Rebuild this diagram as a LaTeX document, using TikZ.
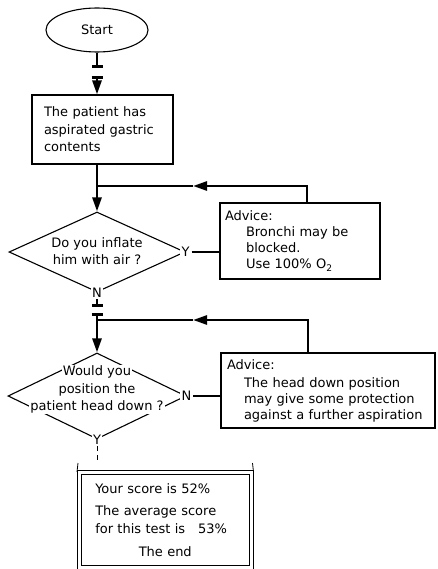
\documentclass[tikz,border=0pt]{standalone}
\usepackage{fontspec}
\setmainfont{DejaVu Sans}
\usetikzlibrary{shapes.geometric,arrows.meta}
\setlength{\fboxsep}{1pt}
\newcommand{\blanco}[1]{\colorbox{white}{#1}}

\begin{document}
\begin{tikzpicture}[   % opciones por defecto
      x=1pt, y=-1pt,     % coordenadas en pixeles, y hacia abajo
      line width=1.1pt,  % linea de las cajas
      font=\fontsize{13}{16}\selectfont
    ]
    \tikzstyle{box}=[draw, rectangle, inner sep=0pt, align=left];
    \tikzstyle{decision}=[draw, diamond, inner sep=0pt];
    \tikzstyle{flow}=[line width=2.6pt];
    \tikzstyle{tip}=[-{Triangle[length=14pt, width=9pt]}];
    \tikzstyle{bartip}=[{Bar[width=11pt]}-{Triangle[length=14pt, width=9pt]}];
    \tikzstyle{answer}=[fill=white, inner sep=1.5pt];
    %
    \useasboundingbox (0,0) rectangle (437,569);
    %
    % inicio
    \node [draw, ellipse, minimum width=102pt, minimum height=44pt, inner sep=0pt] (start) at (97,30) {Start};
    %
    % caja del paciente
    \node [box, minimum width=141pt, minimum height=69pt, text width=117pt,
      font=\fontsize{13}{17.5}\selectfont] (b1) at (102.5,129.5)
      {The patient has\\ aspirated gastric\\ contents};
    %
    % primera pregunta
    \node [decision, minimum width=176pt, minimum height=80pt] (q1) at (97,252) {};
    \node [align=center, font=\fontsize{13}{17}\selectfont] (q1t) at (97,251.5) {Do you inflate\\ him with air ?};
    \node [answer] (y1) at (q1.east) {Y};
    \node [answer] (n1) at (q1.south) {N};
    %
    % primer consejo
    \node [box, minimum width=160pt, minimum height=76pt, text width=150pt] (adv1) at (300,241)
      {Advice:\\ \hspace*{21pt}Bronchi may be\\ \hspace*{21pt}blocked.\\ \hspace*{21pt}Use 100\% O\textsubscript{2}};
    %
    % segunda pregunta
    \node [decision, minimum width=178pt, minimum height=86pt] (q2) at (97,396) {};
    \node [align=center, font=\fontsize{13}{17.5}\selectfont] (q2t) at (97,389.5)
      {\blanco{Would you}\\ \blanco{position the}\\ \blanco{patient head down ?}};
    \node [answer] (n2) at (q2.east) {N};
    \node [answer] (y2) at (q2.south) {Y};
    %
    % segundo consejo
    \node [box, minimum width=214pt, minimum height=75pt, text width=202pt] (adv2) at (328,390.5)
      {Advice:\\[2pt] \hspace*{17pt}The head down position\\ \hspace*{17pt}may give some protection\\ \hspace*{17pt}against a further aspiration};
    %
    % pantalla final
    \node [box, double, double distance=3pt, line width=1pt, minimum width=171.5pt, minimum height=95pt,
      text width=140pt, font=\fontsize{13}{18}\selectfont] (fin) at (165.25,520)
      {Your score is 52\%\\[4pt] The average score\\ for this test is\quad 53\%\\[5pt]
       \makebox[140pt]{The end}};
    \draw[line width=0.8pt] ([xshift=-2pt]fin.north west) -- ++(1,-9);
    \draw[line width=0.8pt] ([xshift=2pt]fin.north east) -- ++(-1,-9);
    %
    % cortes y uniones
    \coordinate (k1) at (97,68);
    \coordinate (k2) at (97,76);
    \coordinate (j1) at (97,186);
    \coordinate (c1) at (307,186);
    \coordinate (m1) at (193,186);
    \coordinate (k3) at (97,307);
    \coordinate (k4) at (97,313);
    \coordinate (j2) at (97,320);
    \coordinate (c2) at (308,320);
    \coordinate (m2) at (193,320);
    \coordinate (k5) at (97,451);
    \coordinate (k6) at (97,455);
    \coordinate (k7) at (97,460);
    %
    % conexiones principales
    \draw[flow, -{Bar[width=11pt]}] (start) -- (k1);
    \draw[flow, bartip] (k2) -- (b1.north -| k2);
    \draw[flow, tip] (b1.south -| start) -- (q1.north);
    \draw[flow, -{Bar[width=11pt]}] (n1) -- (k3);
    \draw[flow, bartip] (k4) -- (q2.north);
    \draw[line width=1pt] (y2) -- (k5);
    \draw[line width=1pt] (k6) -- (k7);
    %
    % respuestas hacia los consejos
    \draw[flow] (y1) -- (y1 -| adv1.west);
    \draw[flow] (n2) -- (n2 -| adv2.west);
    %
    % vuelta de los consejos
    \draw[flow, tip] (adv1.north -| c1) -- (c1) -- (m1);
    \draw[flow] (m1) -- (j1);
    \draw[flow, tip] (adv2.north -| c2) -- (c2) -- (m2);
    \draw[flow] (m2) -- (j2);
  \end{tikzpicture}
\end{document}
